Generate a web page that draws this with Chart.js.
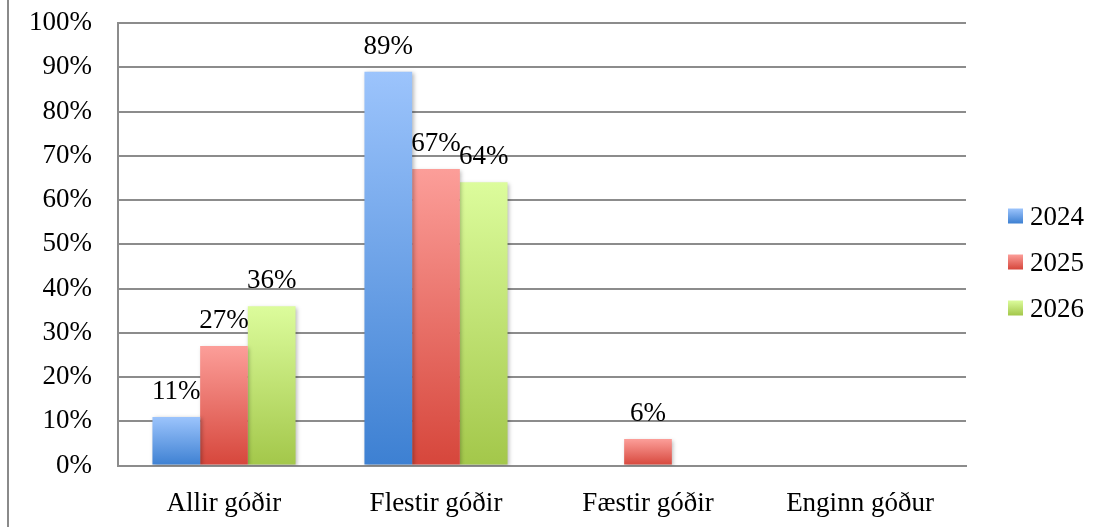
<!DOCTYPE html>
<html>
<head>
<meta charset="utf-8">
<script src="https://cdn.jsdelivr.net/npm/chart.js@4/dist/chart.umd.min.js"></script>
<style>
  html, body { margin: 0; padding: 0; background: #ffffff; }
  #wrap { width: 1104px; height: 527px; }
</style>
</head>
<body>
<div id="wrap"><canvas id="c" width="1104" height="527"></canvas></div>
<script>
const categories = ['Allir góðir', 'Flestir góðir', 'Fæstir góðir', 'Enginn góður'];
const seriesNames = ['2024', '2025', '2026'];
const values2024 = [11, 89, 0, 0];
const values2025 = [27, 67, 6, 0];
const values2026 = [36, 64, 0, 0];
const yTicks = [0, 10, 20, 30, 40, 50, 60, 70, 80, 90, 100];

const palette = {
  '2024': { top: '#9cc4fc', bottom: '#3d80d2', mid: '#74a8ec' },
  '2025': { top: '#fc9e99', bottom: '#d6463b', mid: '#ee7a70' },
  '2026': { top: '#dcfc9c', bottom: '#a3c74a', mid: '#c4e47a' }
};
const FONT = '"Liberation Serif", "Times New Roman", serif';
const FS = 27;

function gradientFill(name) {
  return (ctx) => {
    const chart = ctx.chart;
    if (!chart.chartArea || ctx.raw === undefined) return palette[name].mid;
    const y = chart.scales.y;
    const top = y.getPixelForValue(ctx.raw);
    const bottom = y.getPixelForValue(0);
    if (!isFinite(top) || Math.abs(bottom - top) < 1) return palette[name].mid;
    const g = chart.ctx.createLinearGradient(0, top, 0, bottom);
    g.addColorStop(0, palette[name].top);
    g.addColorStop(1, palette[name].bottom);
    return g;
  };
}

const seriesValues = [values2024, values2025, values2026];
const datasets = seriesNames.map((name, i) => ({
  label: name,
  data: seriesValues[i],
  backgroundColor: gradientFill(name),
  borderWidth: 0,
  categoryPercentage: 0.675,
  barPercentage: 1.0
}));

const framePlugin = {
  id: 'frame',
  beforeDraw(chart) {
    const c = chart.ctx;
    c.save();
    c.fillStyle = '#8a8a8a';
    c.fillRect(7, 0, 2, chart.height);
    c.restore();
  }
};

const shadowPlugin = {
  id: 'barShadow',
  beforeDatasetsDraw(chart) {
    const c = chart.ctx;
    c.save();
    c.shadowColor = 'rgba(0,0,0,0.28)';
    c.shadowBlur = 4;
    c.shadowOffsetX = 1.5;
    c.shadowOffsetY = 1.5;
  },
  afterDatasetsDraw(chart) {
    chart.ctx.restore();
  }
};

const labelPlugin = {
  id: 'valueLabels',
  afterDraw(chart) {
    const c = chart.ctx;
    c.save();
    c.font = FS + 'px ' + FONT;
    c.fillStyle = '#000000';
    c.textAlign = 'center';
    c.textBaseline = 'alphabetic';
    chart.data.datasets.forEach((ds, di) => {
      const meta = chart.getDatasetMeta(di);
      meta.data.forEach((el, i) => {
        const v = ds.data[i];
        if (!v) return;
        c.fillText(v + '%', el.x, el.y - 18);
      });
    });
    c.restore();
  }
};

const legendPlugin = {
  id: 'sideLegend',
  afterDraw(chart) {
    const c = chart.ctx;
    c.save();
    c.font = FS + 'px ' + FONT;
    c.textAlign = 'left';
    c.textBaseline = 'middle';
    const n = seriesNames.length;
    const spacing = 46;
    const cy = chart.height / 2;
    seriesNames.forEach((name, i) => {
      const y = cy + (i - (n - 1) / 2) * spacing;
      const g = c.createLinearGradient(0, y - 9, 0, y + 6);
      g.addColorStop(0, palette[name].top);
      g.addColorStop(1, palette[name].bottom);
      c.fillStyle = g;
      c.fillRect(1008, y - 9, 15, 15);
      c.fillStyle = '#000000';
      c.fillText(name, 1030, y);
    });
    c.restore();
  }
};

new Chart(document.getElementById('c'), {
  type: 'bar',
  data: { labels: categories, datasets },
  options: {
    responsive: false,
    animation: false,
    devicePixelRatio: 1,
    layout: { padding: { left: 3, right: 138, top: 23, bottom: -15 } },
    plugins: {
      legend: { display: false },
      tooltip: { enabled: false }
    },
    scales: {
      x: {
        grid: { display: false, drawTicks: false },
        border: { display: true, color: '#8c8c8c', width: 2 },
        ticks: { color: '#000', font: { family: FONT, size: FS }, padding: 22 }
      },
      y: {
        min: 0,
        max: 100,
        afterBuildTicks(axis) { axis.ticks = yTicks.map(v => ({ value: v })); },
        afterFit(axis) { axis.paddingTop = 0; },
        grid: { color: '#8c8c8c', lineWidth: 2, drawTicks: false },
        border: { display: true, color: '#8c8c8c', width: 2 },
        ticks: {
          color: '#000',
          font: { family: FONT, size: FS },
          padding: 26,
          callback: (v) => v + '%'
        }
      }
    }
  },
  plugins: [framePlugin, shadowPlugin, labelPlugin, legendPlugin]
});
</script>
</body>
</html>
